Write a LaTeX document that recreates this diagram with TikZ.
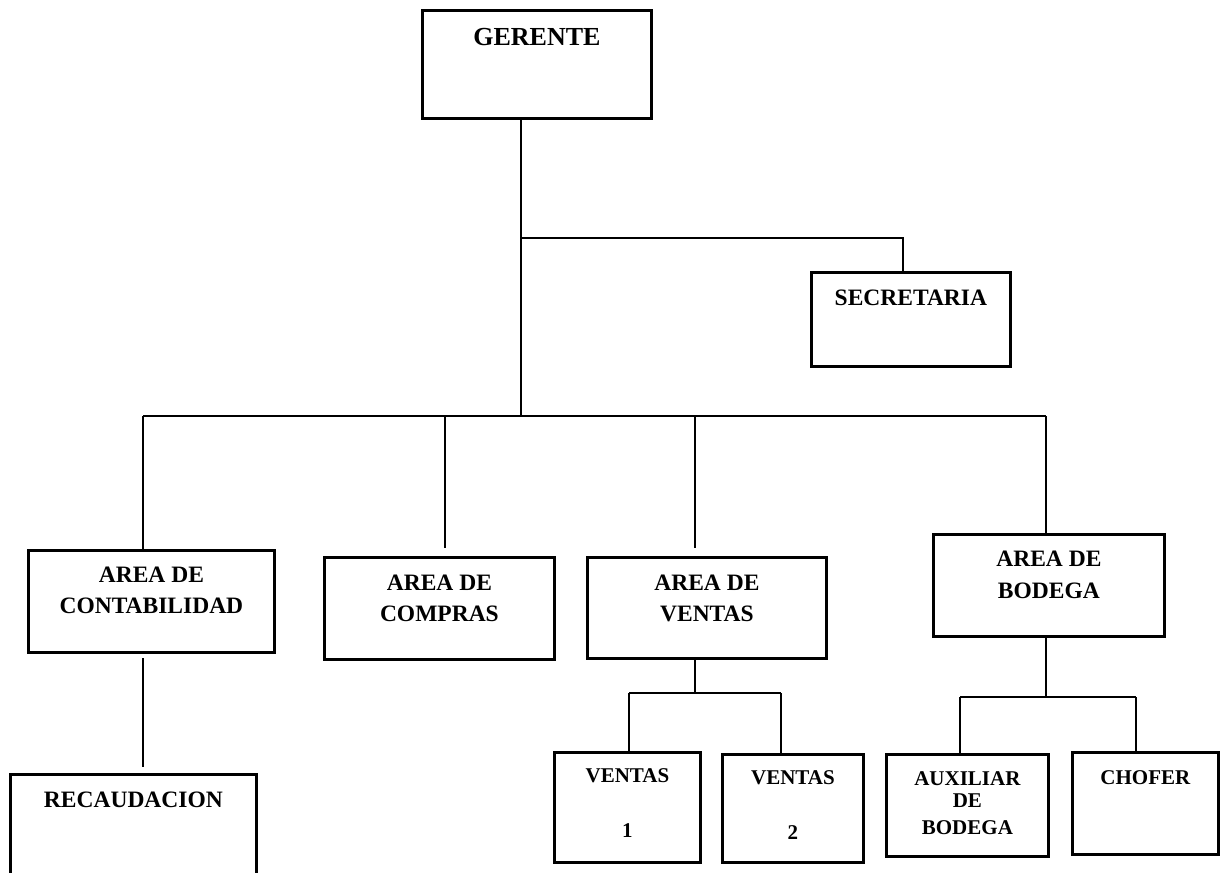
\documentclass[tikz,border=0pt]{standalone}
\usepackage{fontspec}
\setmainfont{Liberation Serif}
\begin{document}
\begin{tikzpicture}[x=1pt,y=-1pt,
  box/.style={draw, line width=2.8pt, inner sep=0pt, anchor=north west},
  txt/.style={font=\bfseries\fontsize{23.5}{27}\selectfont, anchor=base, inner sep=0pt},
  txtsmall/.style={font=\bfseries\fontsize{21}{25}\selectfont, anchor=base, inner sep=0pt},
  txtbig/.style={font=\bfseries\fontsize{26}{30}\selectfont, anchor=base, inner sep=0pt},
  wire/.style={line width=2.2pt}]
\useasboundingbox (0,0) rectangle (1227,873);
\clip (0,0) rectangle (1227,873);

% boxes
\node[box, minimum width=229pt, minimum height=108pt] (g)  at (421,9) {};
\node[box, minimum width=199pt, minimum height=94pt]  (s)  at (810,271) {};
\node[box, minimum width=246pt, minimum height=102pt] (ct) at (27,549) {};
\node[box, minimum width=246pt, minimum height=130pt] (rc) at (9,773) {};
\node[box, minimum width=230pt, minimum height=102pt] (cp) at (323,556) {};
\node[box, minimum width=239pt, minimum height=101pt] (vt) at (586,556) {};
\node[box, minimum width=231pt, minimum height=102pt] (bd) at (932,533) {};
\node[box, minimum width=146pt, minimum height=110pt] (v1) at (553,751) {};
\node[box, minimum width=141pt, minimum height=108pt] (v2) at (721,753) {};
\node[box, minimum width=162pt, minimum height=102pt] (ax) at (885,753) {};
\node[box, minimum width=146pt, minimum height=102pt] (ch) at (1071,751) {};

% labels
\node[txtbig] (gT) at (g.center |- 0,45) {GERENTE};
\node[txt] (sT) at (s.center |- 0,305) {SECRETARIA};
\node[txt] (ctA) at (ct.center |- 0,582) {AREA DE};
\node[txt] (ctB) at (ct.center |- 0,613) {CONTABILIDAD};
\node[txt] (rcT) at (rc.north |- 0,807) {RECAUDACION};
\node[txt] (cpA) at (cp.center |- 0,590) {AREA DE};
\node[txt] (cpB) at (cp.center |- 0,621) {COMPRAS};
\node[txt] (vtA) at (vt.center |- 0,590) {AREA DE};
\node[txt] (vtB) at (vt.center |- 0,621) {VENTAS};
\node[txt] (bdA) at (bd.center |- 0,566) {AREA DE};
\node[txt] (bdB) at (bd.center |- 0,598) {BODEGA};
\node[txtsmall] (v1A) at (v1.center |- 0,782) {VENTAS};
\node[txtsmall] (v1B) at (v1.center |- 0,837) {1};
\node[txtsmall] (v2A) at (v2.center |- 0,784) {VENTAS};
\node[txtsmall] (v2B) at (v2.center |- 0,839) {2};
\node[txtsmall] (axA) at (ax.center |- 0,785) {AUXILIAR};
\node[txtsmall] (axB) at (ax.center |- 0,807) {DE};
\node[txtsmall] (axC) at (ax.center |- 0,834) {BODEGA};
\node[txtsmall] (chT) at (ch.center |- 0,784) {CHOFER};

% junction points
\coordinate (hub)  at (521,416);
\coordinate (sj)   at (521,238);
\coordinate (busL) at (143,416);
\coordinate (busR) at (1046,416);
\coordinate (cpJ)  at (445,416);
\coordinate (cpE)  at (445,548);
\coordinate (vtJ)  at (695,416);
\coordinate (vtE)  at (695,548);
\coordinate (ctS)  at (143,658);
\coordinate (ctE)  at (143,767);
\coordinate (vtH)  at (695,693);
\coordinate (vhL)  at (629,693);
\coordinate (vhR)  at (781,693);
\coordinate (bdH)  at (1046,697);
\coordinate (bhL)  at (960,697);
\coordinate (bhR)  at (1136,697);

% connectors
\draw[wire] (g.south -| hub) -- (hub);
\draw[wire] (sj) -| ([xshift=93pt]s.north west);
\draw[wire] (busL) -- (busR);
\draw[wire] (busL) -- (ct.north -| busL);
\draw[wire] (cpJ) -- (cpE);
\draw[wire] (vtJ) -- (vtE);
\draw[wire] (busR) -- (bd.north -| busR);
\draw[wire] (ctS) -- (ctE);
\draw[wire] (vt.south -| vtH) -- (vtH);
\draw[wire] (vhL) -- (vhR);
\draw[wire] (vhL) -- (v1.north -| vhL);
\draw[wire] (vhR) -- (v2.north -| vhR);
\draw[wire] (bd.south -| bdH) -- (bdH);
\draw[wire] (bhL) -- (bhR);
\draw[wire] (bhL) -- (ax.north -| bhL);
\draw[wire] (bhR) -- (ch.north -| bhR);
\end{tikzpicture}
\end{document}
